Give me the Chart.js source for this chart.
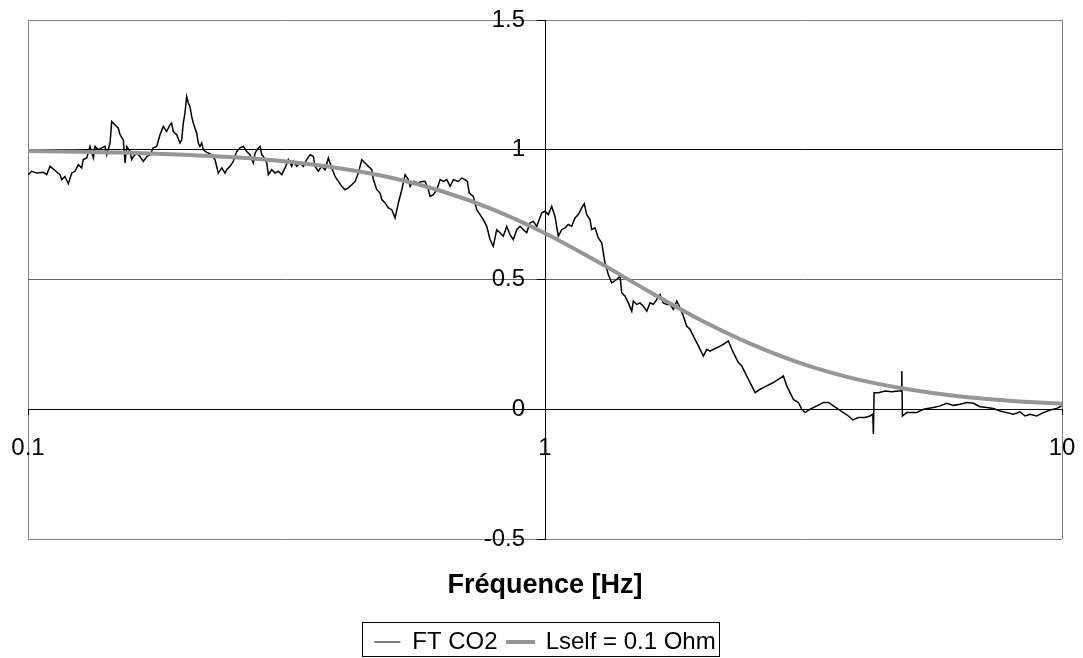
<!DOCTYPE html>
<html>
<head>
<meta charset="utf-8">
<script src="https://cdn.jsdelivr.net/npm/chart.js@4.4.0/dist/chart.umd.min.js"></script>
<style>
html,body{margin:0;padding:0;background:#fff;}
#wrap{width:1083px;height:658px;}
</style>
</head>
<body>
<div id="wrap"><canvas id="c" width="1083" height="658"></canvas></div>
<script>
// ---- data ----
const seriesNames = ['FT CO2', 'Lself = 0.1 Ohm'];
const xTitle = 'Fréquence [Hz]';
const xTicks = [0.1, 1, 10];
const xTickLabels = ['0.1', '1', '10'];
const yTicks = [-0.5, 0, 0.5, 1, 1.5];
const yTickLabels = ['-0.5', '0', '0.5', '1', '1.5'];

// FT CO2 : frequency [Hz]
const freqFT = [
0.1001,0.1017,0.1040,0.1071,0.1087,0.1103,0.1128,0.1153,0.1162,0.1179,
0.1197,0.1215,0.1233,0.1251,0.1270,0.1279,0.1299,0.1318,0.1338,0.1348,
0.1368,0.1389,0.1409,0.1420,0.1441,0.1452,0.1473,0.1495,0.1507,0.1529,
0.1541,0.1552,0.1575,0.1587,0.1599,0.1623,0.1647,0.1671,0.1697,0.1722,
0.1747,0.1774,0.1800,0.1827,0.1854,0.1882,0.1896,0.1910,0.1939,0.1968,
0.1983,0.1997,0.2012,0.2027,0.2042,0.2057,0.2073,0.2088,0.2104,0.2120,
0.2135,0.2151,0.2168,0.2183,0.2217,0.2249,0.2300,0.2317,0.2334,0.2370,
0.2405,0.2423,0.2459,0.2495,0.2533,0.2571,0.2609,0.2649,0.2688,0.2728,
0.2749,0.2789,0.2811,0.2832,0.2852,0.2896,0.2916,0.2961,0.3005,0.3049,
0.3096,0.3142,0.3188,0.3237,0.3260,0.3310,0.3359,0.3409,0.3461,0.3512,
0.3564,0.3591,0.3644,0.3700,0.3755,0.3810,0.3869,0.3926,0.3984,0.4045,
0.4105,0.4165,0.4229,0.4292,0.4355,0.4422,0.4487,0.4554,0.4623,0.4656,
0.4727,0.4797,0.4834,0.4905,0.4978,0.5054,0.5129,0.5205,0.5284,0.5363,
0.5442,0.5484,0.5565,0.5690,0.5777,0.5862,0.5949,0.5995,0.6083,0.6176,
0.6268,0.6361,0.6458,0.6553,0.6651,0.6797,0.6901,0.7003,0.7075,0.7138,
0.7267,0.7378,0.7487,0.7598,0.7714,0.7828,0.7943,0.8065,0.8184,0.8305,
0.8432,0.8557,0.8683,0.8816,0.8946,0.9079,0.9218,0.9354,0.9493,0.9638,
0.9854,1.000,1.0148,1.0303,1.0455,1.0610,1.0772,1.0932,1.1094,1.1263,
1.1430,1.1599,1.1776,1.1913,1.2041,1.2219,1.2312,1.2495,1.2680,1.2874,
1.2966,1.3064,1.3258,1.3460,1.3763,1.3967,1.4074,1.4282,1.4494,1.4716,
1.4821,1.5047,1.5270,1.5496,1.5733,1.5966,1.6202,1.6449,1.6693,1.6940,
1.7199,1.7454,1.7712,1.7983,1.8249,1.8519,1.8802,1.9080,1.9363,1.9659,
1.9950,2.0246,2.0555,2.0859,2.1168,2.1491,2.1809,2.2132,2.2631,2.2976,
2.3316,2.3661,2.4022,2.4378,2.4739,2.5117,2.5489,2.6063,2.6853,2.7654,
2.8277,2.8914,2.9355,2.9790,3.0232,3.0913,3.1384,3.1849,3.2566,3.3553,
3.4553,3.5332,3.6127,3.6941,3.7773,3.8623,3.9388,4.0381,4.1605,4.2542,
4.3056,4.3171,4.3306,4.3499,4.4143,4.5481,4.6859,4.8258,4.8841,4.8993,
4.9124,5.0097,5.2380,5.3942,5.6399,5.8106,5.9868,6.1654,6.3521,6.5444,
6.7396,6.9437,7.1539,7.3674,7.5905,7.8204,8.0535,8.2973,8.4841,8.6752,
8.9378,9.2046,9.4836,9.7668,9.9867
];
// FT CO2 : amplitude
const ampFT = [
0.904,0.917,0.910,0.913,0.904,0.936,0.920,0.904,0.885,0.897,
0.869,0.910,0.917,0.942,0.930,0.962,0.968,1.013,0.968,1.013,
1.000,1.007,1.013,0.981,1.026,1.109,1.096,1.083,1.058,1.038,
0.949,1.013,0.993,0.962,0.974,0.987,0.974,0.955,0.974,0.981,
1.007,1.013,1.058,1.090,1.070,1.096,1.103,1.070,1.058,1.026,
1.038,1.103,1.141,1.205,1.180,1.167,1.128,1.103,1.083,1.064,
1.026,1.013,1.026,1.000,0.990,0.985,0.962,0.936,0.910,0.930,
0.910,0.923,0.936,0.955,0.993,1.007,1.013,0.993,0.981,0.949,
0.987,1.007,1.013,0.981,0.974,0.949,0.904,0.923,0.910,0.917,
0.904,0.930,0.962,0.936,0.955,0.936,0.949,0.936,0.962,0.981,
0.974,0.936,0.917,0.936,0.923,0.968,0.930,0.897,0.878,0.859,
0.846,0.853,0.865,0.878,0.910,0.962,0.949,0.936,0.923,0.885,
0.846,0.833,0.808,0.795,0.776,0.769,0.737,0.795,0.846,0.904,
0.885,0.859,0.878,0.872,0.878,0.878,0.846,0.820,0.827,0.846,
0.885,0.878,0.885,0.859,0.885,0.878,0.891,0.885,0.878,0.833,
0.820,0.769,0.750,0.731,0.705,0.654,0.628,0.692,0.680,0.667,
0.705,0.673,0.654,0.692,0.705,0.692,0.680,0.718,0.724,0.705,
0.757,0.763,0.750,0.782,0.743,0.667,0.692,0.699,0.712,0.705,
0.737,0.750,0.776,0.792,0.750,0.731,0.692,0.699,0.660,0.641,
0.603,0.564,0.519,0.487,0.500,0.513,0.449,0.436,0.410,0.378,
0.417,0.404,0.410,0.397,0.378,0.410,0.404,0.423,0.442,0.410,
0.404,0.404,0.385,0.417,0.391,0.359,0.320,0.308,0.282,0.257,
0.231,0.205,0.231,0.224,0.231,0.237,0.243,0.250,0.263,0.231,
0.205,0.180,0.167,0.141,0.115,0.090,0.064,0.077,0.090,0.103,
0.115,0.128,0.090,0.064,0.038,0.026,0.000,-0.013,0.000,0.013,
0.026,0.026,0.013,0.000,-0.013,-0.026,-0.041,-0.032,-0.032,-0.026,
-0.019,-0.095,0.064,0.064,0.064,0.070,0.067,0.070,0.070,0.147,
-0.026,-0.013,-0.013,0.000,0.007,0.013,0.023,0.015,0.019,0.026,
0.023,0.010,0.007,0.003,-0.007,-0.013,-0.019,-0.010,-0.026,-0.019,
-0.026,-0.013,-0.003,0.003,0.013
];

// Lself = 0.1 Ohm : smooth model curve
const freqFit = [0.1,0.126,0.158,0.2,0.25,0.316,0.4,0.5,0.63,0.79,1,1.26,1.58,2,2.5,3.16,4,5,6.3,7.9,10];
const ampFit  = [0.995,0.992,0.988,0.981,0.971,0.955,0.929,0.894,0.841,0.771,0.678,0.570,0.457,0.344,0.252,0.174,0.116,0.078,0.050,0.033,0.021];

// ---- chart ----
Chart.defaults.font.family = '"Liberation Sans", Arial, Helvetica, sans-serif';
Chart.defaults.font.size = 24;
Chart.defaults.color = '#000';

const lineColors = ['#000000', '#969696'];
const lineWidths = [1.5, 4];

const legendFrame = {
  id: 'legendFrame',
  afterDraw(chart) {
    const lg = chart.legend;
    if (!lg || !lg.legendHitBoxes || !lg.legendHitBoxes.length) return;
    const hb = lg.legendHitBoxes;
    const last = hb[hb.length - 1];
    const l = Math.round(hb[0].left - 12) + 0.5;
    const r = Math.round(last.left + last.width + 3) + 0.5;
    const t = Math.round(hb[0].top - 8) + 0.5;
    const b = Math.min(Math.round(hb[0].top + hb[0].height + 8), chart.height - 1) - 0.5;
    const ctx = chart.ctx;
    ctx.save();
    ctx.strokeStyle = '#000';
    ctx.lineWidth = 1;
    ctx.strokeRect(l, t, r - l, b - t);
    ctx.restore();
  }
};

const noPad = (s) => { s.paddingLeft = 0; s.paddingRight = 0; s.paddingTop = 0; s.paddingBottom = 0; };

new Chart(document.getElementById('c'), {
  type: 'line',
  data: {
    datasets: [
      {
        label: seriesNames[0],
        data: freqFT.map((f, i) => ({x: f, y: ampFT[i]})),
        borderColor: lineColors[0],
        backgroundColor: lineColors[0],
        borderWidth: lineWidths[0],
        pointRadius: 0,
        tension: 0,
        order: 1
      },
      {
        label: seriesNames[1],
        data: freqFit.map((f, i) => ({x: f, y: ampFit[i]})),
        borderColor: lineColors[1],
        backgroundColor: lineColors[1],
        borderWidth: lineWidths[1],
        pointRadius: 0,
        cubicInterpolationMode: 'monotone',
        order: 0
      }
    ]
  },
  options: {
    responsive: false,
    animation: false,
    devicePixelRatio: 1,
    layout: { padding: { left: 28, right: 21, top: 20, bottom: 0 } },
    scales: {
      x: {
        type: 'logarithmic',
        min: 0.1, max: 10,
        position: { y: 0 },
        afterBuildTicks: (s) => { s.ticks = xTicks.map(v => ({ value: v })); },
        afterFit: noPad,
        ticks: {
          autoSkip: false, maxRotation: 0, padding: 20,
          callback: (v, i) => xTickLabels[i]
        },
        grid: {
          color: (c) => (c.tick && c.tick.value === 1) ? '#000' : '#808080',
          tickColor: '#000',
          tickLength: 5,
          lineWidth: 1
        },
        border: { color: '#000', width: 1 }
      },
      y: {
        type: 'linear',
        min: -0.5, max: 1.5,
        position: { x: 1 },
        afterBuildTicks: (s) => { s.ticks = yTicks.map(v => ({ value: v })); },
        afterFit: noPad,
        ticks: {
          autoSkip: false, padding: 13,
          // trailing spaces keep the right-aligned labels clear of the axis line
          callback: (v, i) => yTickLabels[i] + '   '
        },
        grid: {
          color: (c) => {
            const v = c.tick ? c.tick.value : null;
            if (v === 1 || v === 0) return '#000';
            if (v === 0.5) return '#666';
            return '#808080';
          },
          tickColor: '#000',
          tickLength: 8,
          lineWidth: 1
        },
        border: { color: '#000', width: 1 }
      }
    },
    plugins: {
      title: {
        display: true,
        text: xTitle,
        position: 'bottom',
        weight: 500,
        font: { size: 27, weight: 'bold' },
        color: '#000',
        padding: { top: 30, bottom: 18.6 }
      },
      legend: {
        display: true,
        position: 'bottom',
        maxHeight: 38,
        labels: {
          font: { size: 24 },
          color: '#000',
          boxWidth: 26,
          boxHeight: 1,
          padding: 10,
          generateLabels: (chart) => chart.data.datasets.map((ds, i) => ({
            text: ds.label,
            fillStyle: ds.borderColor,
            strokeStyle: ds.borderColor,
            lineWidth: i === 0 ? 0 : 3,
            hidden: false,
            datasetIndex: i,
            fontColor: '#000'
          }))
        }
      },
      tooltip: { enabled: false }
    }
  },
  plugins: [legendFrame]
});
</script>
</body>
</html>
